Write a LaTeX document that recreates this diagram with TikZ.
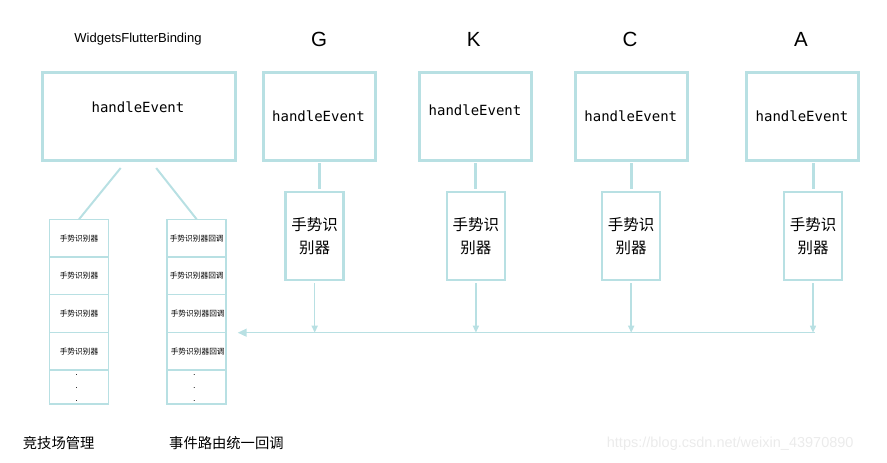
\documentclass[tikz,border=0pt]{standalone}
\usepackage{fontspec}
\setmainfont{Liberation Sans}
\newfontfamily\cjk{Noto Sans CJK SC}
\newfontfamily\monof{DejaVu Sans Mono}
\usetikzlibrary{arrows.meta,calc}
\definecolor{lc}{HTML}{B8E0E3}
\definecolor{wm}{HTML}{EBEBEB}
\begin{document}
\begin{tikzpicture}[x=1pt,y=-1pt,
  hbox/.style={draw=lc, line width=3pt, minimum width=112pt, minimum height=88pt, inner sep=0pt, outer sep=0pt},
  wbox/.style={hbox, minimum width=193pt},
  rbox/.style={draw=lc, line width=2.5pt, minimum width=58pt, minimum height=88pt, inner sep=0pt, outer sep=0pt, align=center, font=\cjk\fontsize{15.5}{22.7}\selectfont},
  cell/.style={draw=lc, line width=1.5pt, minimum width=59pt, minimum height=37.7pt, inner sep=0pt, outer sep=0pt, font=\cjk\fontsize{7.7}{9}\selectfont},
  lastcell/.style={cell, minimum height=34pt},
  mono/.style={inner sep=0pt, font=\monof\fontsize{14}{16}\selectfont},
  title/.style={inner sep=0pt, font=\fontsize{20.5}{24}\selectfont},
  link/.style={draw=lc, line width=3pt, shorten <=3pt, shorten >=3pt},
  diag/.style={draw=lc, line width=2pt},
  arr/.style={draw=lc, line width=1.5pt, shorten <=3pt, -{Triangle[width=6pt,length=7pt]}},
  busarr/.style={draw=lc, line width=1.5pt, -{Triangle[width=8pt,length=9pt]}},
  dot/.style={inner sep=0pt, font=\fontsize{9}{10}\selectfont},
  lbl/.style={anchor=west, inner sep=0pt, font=\cjk\fontsize{14.3}{17}\selectfont}
]
\useasboundingbox (0,0) rectangle (887,463);

% WidgetsFlutterBinding
\node[inner sep=0pt, font=\fontsize{13}{15}\selectfont] (wt) at (138,39) {WidgetsFlutterBinding};
\node[wbox] (W) at (138.5,116.2) {};
\node[mono] (wh) at (138,107.7) {handleEvent};

% columns
\node[title] (gt) at (319,39.3) {G};
\node[hbox] (G) at (319.5,116.2) {};
\node[mono] (gh) at (318.5,116) {handleEvent};
\node[rbox] (Gr) at (314.7,236.2) {手势识\\别器};

\node[title] (kt) at (473.7,39.3) {K};
\node[hbox] (K) at (475.5,116.2) {};
\node[mono] (kh) at (475,110.7) {handleEvent};
\node[rbox] (Kr) at (475.9,236.2) {手势识\\别器};

\node[title] (ct) at (630,39.3) {C};
\node[hbox] (C) at (631.3,116.2) {};
\node[mono] (ch) at (630.8,116) {handleEvent};
\node[rbox] (Cr) at (631.2,236.2) {手势识\\别器};

\node[title] (at) at (801,39.3) {A};
\node[hbox] (A) at (802.7,116.2) {};
\node[mono] (ah) at (802,116) {handleEvent};
\node[rbox] (Ar) at (813,236.2) {手势识\\别器};

% box to recognizer links
\draw[link] (G.south) -- (G.south |- Gr.north);
\draw[link] (K.south) -- (K.south |- Kr.north);
\draw[link] (C.south) -- (C.south |- Cr.north);
\draw[link] (Ar.north |- A.south) -- (Ar.north);

% bus
\coordinate (busR) at (815,332.7);
\coordinate (busL) at (237.7,332.7);
\draw[busarr] (busR) -- (busL);
\draw[arr] (Gr.south) -- (Gr.south |- busR);
\draw[arr] (Kr.south) -- (Kr.south |- busR);
\draw[arr] (Cr.south) -- (Cr.south |- busR);
\draw[arr] (Ar.south) -- (Ar.south |- busR);

% left list (arena)
\node[cell] (L1) at (79,238.15) {手势识别器};
\node[cell] (L2) at (79,275.85) {手势识别器};
\node[cell] (L3) at (79,313.55) {手势识别器};
\node[cell] (L4) at (79,351.25) {手势识别器};
\node[lastcell] (L5) at (79,387.1) {};
\node[dot] (ld1) at (76.7,375) {.};
\node[dot] (ld2) at (76.7,388) {.};
\node[dot] (ld3) at (76.7,400.7) {.};

% right list (callbacks)
\node[cell] (R1) at (196.7,238.15) {手势识别器回调};
\node[cell] (R2) at (196.7,275.85) {手势识别器回调};
\node[cell] (R3) at (196.7,313.55) {\hspace{2pt}手势识别器回调};
\node[cell] (R4) at (196.7,351.25) {\hspace{2pt}手势识别器回调};
\node[lastcell] (R5) at (196.7,387.1) {};
\node[dot] (rd1) at (194.3,375) {.};
\node[dot] (rd2) at (194.3,388) {.};
\node[dot] (rd3) at (194.3,400.7) {.};

% diagonals from binding box to lists
\draw[diag, shorten <=10pt] ($(W.south)+(-11.5,0)$) -- (L1.north);
\draw[diag, shorten <=10pt] ($(W.south)+(11.5,0)$) -- (R1.north);

% bottom labels
\node[lbl] (arena) at (22.7,442.7) {竞技场管理};
\node[lbl] (route) at (169,442.7) {事件路由统一回调};

% watermark
\node[anchor=west, inner sep=0pt, text=wm, font=\fontsize{14.5}{17}\selectfont] (wmk) at (606.7,443.3) {https://blog.csdn.net/weixin\_43970890};
\end{tikzpicture}
\end{document}
